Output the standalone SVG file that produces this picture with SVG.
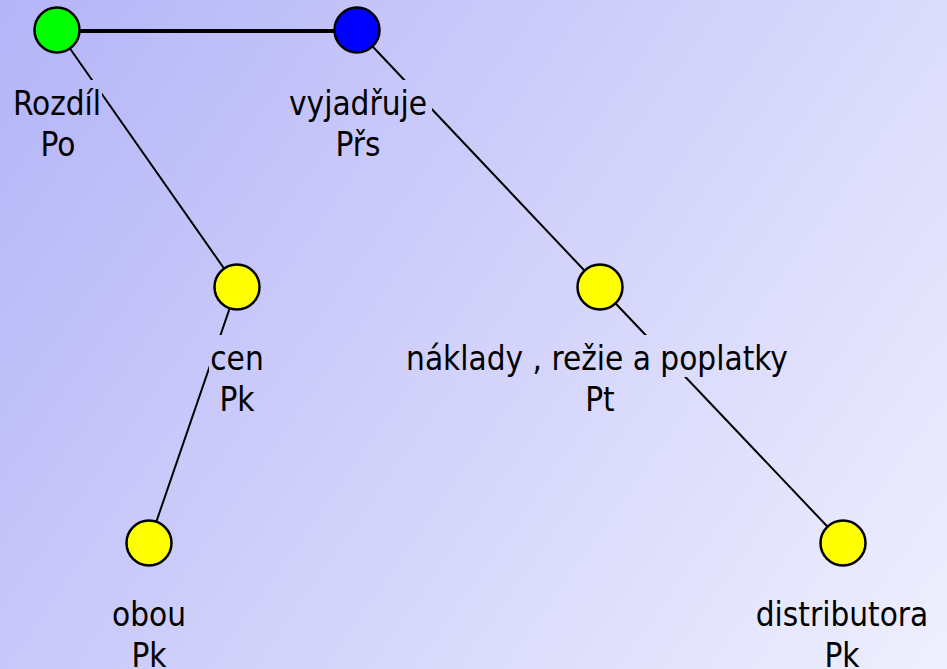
<svg xmlns="http://www.w3.org/2000/svg" width="947" height="669" viewBox="0 0 947 669">
  <defs>
    <linearGradient id="bg" gradientUnits="userSpaceOnUse" x1="0" y1="0" x2="947" y2="669">
      <stop offset="0" stop-color="#b4b4f8"/>
      <stop offset="1" stop-color="#efeffe"/>
    </linearGradient>
  </defs>
  <style>
    .edge { stroke: #000; stroke-width: 2; fill: none; }
    .main { stroke: #000; stroke-width: 4; fill: none; }
    .node { stroke: #000; stroke-width: 2.5; }
    .lbg { fill: url(#bg); }
    text { font-family: "DejaVu Sans Condensed", "DejaVu Sans", sans-serif; font-stretch: condensed; font-size: 33px; fill: #000; text-anchor: middle; }
  </style>
  <rect x="0" y="0" width="947" height="669" fill="url(#bg)"/>
  <g id="connectors">
    <line class="main" x1="57" y1="31" x2="357" y2="31"/>
    <line class="edge" x1="57" y1="30" x2="237" y2="287"/>
    <line class="edge" x1="357" y1="30" x2="600" y2="287"/>
    <line class="edge" x1="237" y1="287" x2="149" y2="543"/>
    <line class="edge" x1="600" y1="287" x2="843" y2="543"/>
  </g>
  <g id="node-rozdil">
    <rect class="lbg" x="13" y="80" width="89" height="42"/>
    <rect class="lbg" x="37" y="122" width="43" height="42"/>
    <text x="57" y="115">Rozdíl</text>
    <text x="58" y="156">Po</text>
    <circle class="node" cx="57" cy="30" r="22.5" fill="#00ff00"/>
  </g>
  <g id="node-vyjadruje">
    <rect class="lbg" x="284" y="80" width="148" height="42"/>
    <rect class="lbg" x="335" y="122" width="46" height="42"/>
    <text x="358" y="115">vyjadřuje</text>
    <text x="358" y="156">Přs</text>
    <circle class="node" cx="357" cy="30" r="22.5" fill="#0000ff"/>
  </g>
  <g id="node-cen">
    <rect class="lbg" x="209" y="335" width="56" height="42"/>
    <rect class="lbg" x="217" y="377" width="40" height="42"/>
    <text x="237" y="370">cen</text>
    <text x="237" y="411">Pk</text>
    <circle class="node" cx="237" cy="287" r="22.5" fill="#ffff00"/>
  </g>
  <g id="node-naklady">
    <rect class="lbg" x="403" y="335" width="390" height="42"/>
    <rect class="lbg" x="583" y="377" width="34" height="42"/>
    <text x="597" y="370">náklady , režie a poplatky</text>
    <text x="600" y="411">Pt</text>
    <circle class="node" cx="600" cy="287" r="22.5" fill="#ffff00"/>
  </g>
  <g id="node-obou">
    <text x="149" y="626">obou</text>
    <text x="149" y="667">Pk</text>
    <circle class="node" cx="149" cy="543" r="22.5" fill="#ffff00"/>
  </g>
  <g id="node-distributora">
    <text x="842" y="626">distributora</text>
    <text x="842" y="667">Pk</text>
    <circle class="node" cx="843" cy="543" r="22.5" fill="#ffff00"/>
  </g>
</svg>
